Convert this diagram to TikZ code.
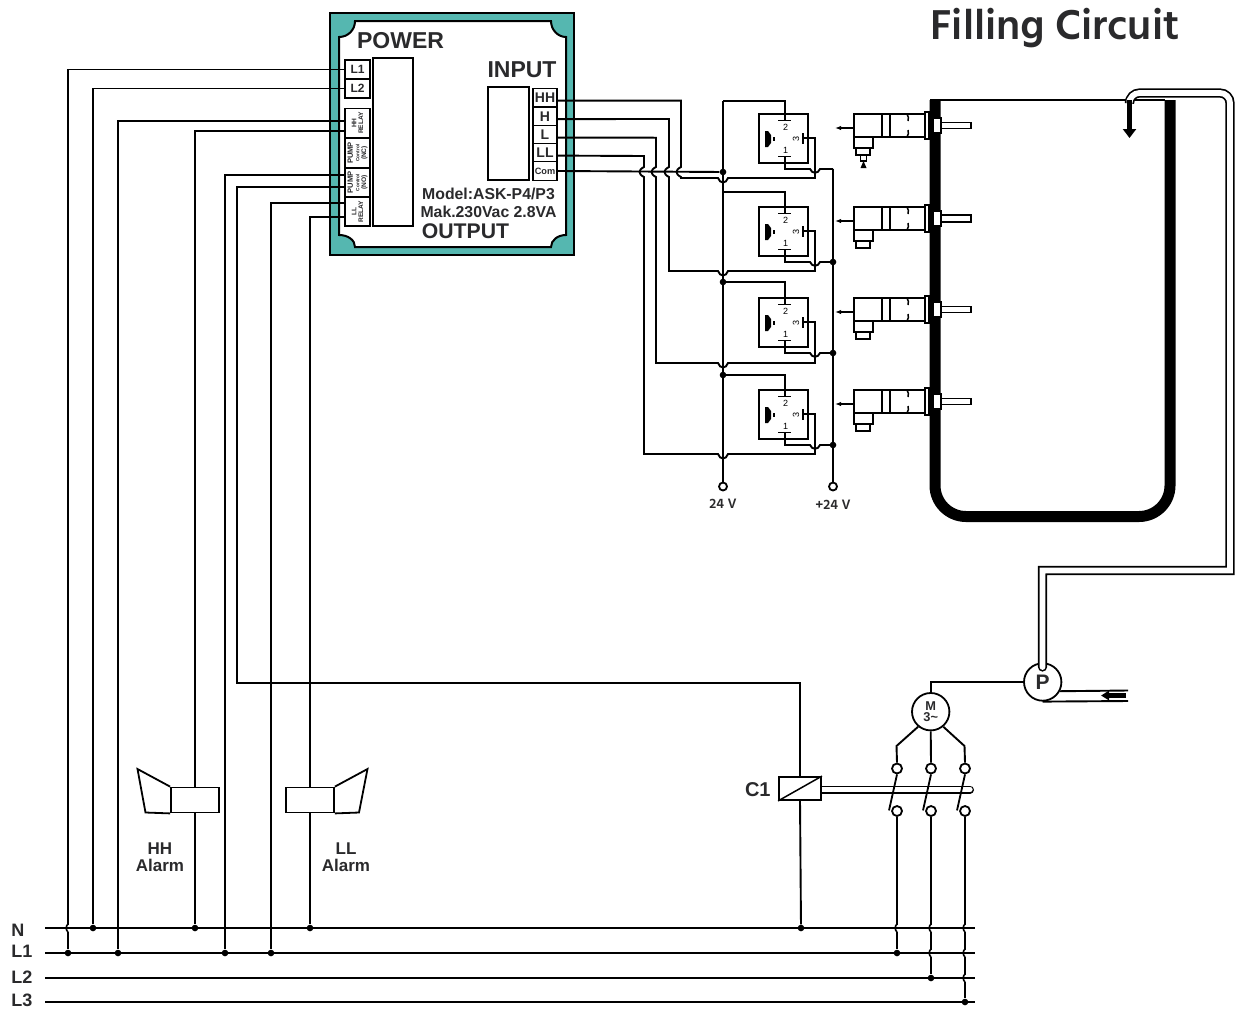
\documentclass[tikz,border=0pt]{standalone}
\usepackage{fontspec}
\setmainfont{Liberation Sans}
\newfontfamily\titlefont{Hind Siliguri}
\usetikzlibrary{arrows,arrows.meta}
\definecolor{panel}{HTML}{55B7B0}
\definecolor{ink}{HTML}{2A2A2C}
\newcommand{\fs}[1]{\fontsize{#1}{#1}\selectfont}

\begin{document}
\begin{tikzpicture}[x=.5pt,y=-.5pt,>={Latex[length=3pt,width=2.2pt]},line join=miter,
  wire/.style={draw,line width=.95pt},
  thin wire/.style={draw,line width=.75pt},
  term/.style={draw,fill=white,line width=.9pt,inner sep=0pt,minimum width=12.5pt,minimum height=9.5pt,text=ink,font=\bfseries\fs{6}},
  side term/.style={term,rotate=90,minimum width=14.6pt,minimum height=12.5pt,align=center,font=\bfseries\fs{3.3}},
  lbl/.style={inner sep=0pt,text=ink,font=\bfseries\fs{#1},align=center},
  dot/.style={circle,fill=black,inner sep=0pt,minimum size=3.3pt},
  contact/.style={circle,draw,fill=white,line width=.9pt,inner sep=0pt,minimum size=5pt},
  plainbox/.style={draw,fill=white,line width=.9pt,inner sep=0pt},
  pipe/.style={draw,line width=.85pt,double=white,double distance=2.9pt,line cap=round}]

  \tikzstyle{sensor} = [draw,fill=white,line width=.85pt]

  \useasboundingbox (0,0) rectangle (1240,1012);

  \node[inner sep=0pt,text=ink,font=\titlefont\bfseries\fs{21.4}] (title) at (1055,28) {Filling Circuit};

  % controller
  \node[draw,fill=panel,line width=1.2pt,inner sep=0pt,minimum width=122pt,minimum height=121pt] (device) at (452,134) {};
  \path[draw,fill=white,line width=1pt] (355,21) -- (551,21) .. controls (551,30) and (558,37) .. (566,37)
    -- (566,235) .. controls (558,235) and (551,240) .. (551,247) -- (355,247)
    .. controls (355,240) and (348,235) .. (339,235) -- (339,37) .. controls (348,37) and (355,30) .. (355,21) -- cycle;
  \node[plainbox,minimum width=20pt,minimum height=84pt] (powerblock) at (393,142) {};
  \node[plainbox,minimum width=20.5pt,minimum height=46.5pt] (inputblock) at (508.5,133.5) {};
  \node[lbl=11.5] (power) at (400.5,40.5) {POWER};
  \node[lbl=11.5] (input) at (522,70) {INPUT};
  \node[lbl=7.9] (model) at (488.5,194) {Model:ASK-P4/P3};
  \node[lbl=7.9] (rating) at (488.5,212) {Mak.230Vac 2.8VA};
  \node[lbl=10.6] (output) at (465.5,231) {OUTPUT};

  \node[term] (tL1) at (357.5,69.5) {L1};
  \node[term] (tL2) at (357.5,88.5) {L2};
  \node[side term] (rHH) at (357.5,123) {HH\\RELAY};
  \node[side term] (pNC) at (357.5,153) {\fs{3.8}PUMP\\\fs{2.4}Control\\(NC)};
  \node[side term] (pNO) at (357.5,182.5) {\fs{3.8}PUMP\\\fs{2.4}Control\\(NO)};
  \node[side term] (rLL) at (357.5,211.5) {LL\\RELAY};
  \node[term,minimum width=12pt,font=\bfseries\fs{7}] (tHH) at (545,98) {HH};
  \node[term,minimum width=12pt,font=\bfseries\fs{7}] (tH) at (545,116.5) {H};
  \node[term,minimum width=12pt,font=\bfseries\fs{7}] (tL) at (545,135) {L};
  \node[term,minimum width=12pt,font=\bfseries\fs{7}] (tLL) at (545,153) {LL};
  \node[term,minimum width=12pt,font=\bfseries\fs{4.6}] (tCom) at (545,171) {Com};

  \coordinate (rHHa) at (345,121);
  \coordinate (rHHb) at (345,131);
  \coordinate (pNOa) at (345,175);
  \coordinate (pNOb) at (345,187);
  \coordinate (rLLa) at (345,203);
  \coordinate (rLLb) at (345,217);

  % supply lines
  \node[lbl=9,anchor=west] (lN) at (11,930) {N};
  \node[lbl=9,anchor=west] (lL1) at (11,951) {L1};
  \node[lbl=9,anchor=west] (lL2) at (11,977) {L2};
  \node[lbl=9,anchor=west] (lL3) at (11,1000) {L3};
  \coordinate (nA) at (45,928);
  \coordinate (nB) at (975,928);
  \coordinate (aA) at (45,953);
  \coordinate (aB) at (975,953);
  \coordinate (bA) at (45,978);
  \coordinate (bB) at (975,978);
  \coordinate (cA) at (45,1002);
  \coordinate (cB) at (975,1002);

  \foreach \nm/\x/\y in {tapA/68/953,tapB/93/928,tapC/118/953,tapD/195/928,tapE/225/953,
      tapF/801/928,tapG/271/953,tapH/310/928,tapJ/897/953,tapK/931/978,tapL/965/1002}
    \node[dot] (\nm) at (\x,\y) {};

  % alarms
  \node[plainbox,minimum width=24pt,minimum height=12.5pt] (boxHH) at (195,800) {};
  \node[plainbox,minimum width=24pt,minimum height=12.5pt] (boxLL) at (310,800) {};
  \path[draw,line width=.9pt] (boxHH.north west) -- (137.5,769) -- (145.5,812.5) -- (boxHH.south west);
  \path[draw,line width=.9pt] (boxLL.north east) -- (367.5,769) -- (359,812.5) -- (boxLL.south east);
  \node[lbl=8.5] (alarmHH) at (160,857) {HH\\[-.2pt]Alarm};
  \node[lbl=8.5] (alarmLL) at (346,857) {LL\\[-.2pt]Alarm};

  % contactor and motor
  \coordinate (rodstart) at (815,789.5);
  \coordinate (rodend) at (970,789.5);
  \path[pipe,line width=.7pt,double distance=2.6pt] (rodstart) -- (rodend);
  \node[plainbox,minimum width=21pt,minimum height=11.5pt] (coil) at (800,788.5) {};
  \path[thin wire] (coil.south west) -- (coil.north east);
  \node[lbl=10,anchor=east] (c1) at (771,790) {C1};
  \node[circle,draw,fill=white,line width=.9pt,inner sep=0pt,minimum size=18.7pt,text=ink,align=center,font=\bfseries\fs{6.4}] (motor) at (930.7,711.7) {M\\[-.5pt]3\textasciitilde};
  \node[circle,draw,fill=white,line width=.9pt,inner sep=0pt,minimum size=18.7pt,text=ink,font=\bfseries\fs{10.5}] (pump) at (1042.7,682) {P};
  \foreach \i/\x in {1/897,2/931,3/965} {
    \node[contact] (ct\i) at (\x,768.5) {};
    \node[contact] (cb\i) at (\x,811) {};
    \path[draw,line width=.9pt] (ct\i.south) -- ++(-8,36);
  }
  \coordinate (mbendA) at (896.5,746);
  \coordinate (mbendB) at (964.5,746);
  \path[wire] (motor.-130) -- (mbendA) -- (ct1.north);
  \path[wire] (motor.south) -- (ct2.north);
  \path[wire] (motor.-50) -- (mbendB) -- (ct3.north);
  \path[wire] (motor.north) |- (pump.west);
  \path[wire] (cb1.south) -- (tapJ);
  \path[wire] (cb2.south) -- (tapK);
  \path[wire] (cb3.south) -- (tapL);

  % outputs
  \path[wire] (tL1.west) -| (tapA);
  \path[wire] (tL2.west) -| (tapB);
  \path[wire] (rHHa) -| (tapC);
  \path[wire] (rHHb) -| (boxHH.north);
  \path[wire] (boxHH.south) -- (tapD);
  \path[wire] (pNOa) -| (tapE);
  \coordinate (coilfeed) at (237,683);
  \path[wire] (pNOb) -| (coilfeed) -| (coil.north);
  \path[wire] (coil.south) -- (tapF);
  \path[wire] (rLLa) -| (tapG);
  \path[wire] (rLLb) -| (boxLL.north);
  \path[wire] (boxLL.south) -- (tapH);

  % hops over the supply lines
  \foreach \x/\y in {68/928,897/928,931/928,931/953,965/928,965/953,965/978} {
    \path[draw=white,line width=1.4pt] (\x,\y-3.5) -- (\x,\y+3.5);
    \path[wire,line width=.8pt] (\x,\y-4) to[bend right=50] (\x,\y+4);
  }
  \path[wire] (nA) -- (nB);
  \path[wire] (aA) -- (aB);
  \path[wire] (bA) -- (bB);
  \path[wire] (cA) -- (cB);

  % relays
  \node[circle,draw,fill=white,line width=.9pt,inner sep=0pt,minimum size=4pt] (vneg) at (723,486.5) {};
  \node[circle,draw,fill=white,line width=.9pt,inner sep=0pt,minimum size=4pt] (vpos) at (833,486.5) {};
  \node[inner sep=0pt,text=ink,font=\titlefont\bfseries\fs{7}] (lneg) at (723,504) {24 V};
  \node[inner sep=0pt,text=ink,font=\titlefont\bfseries\fs{7}] (lpos) at (833,505) {+24 V};
  \coordinate (negtop) at (723,101);
  \coordinate (postop) at (833,169);
  \path[wire] (negtop) -- (vneg.north);
  \path[wire] (postop) -- (vpos.north);
  \node[dot] (comdot) at (723,172) {};
  \path[wire] (tCom.east) -- (comdot);

  \foreach \i/\ry/\fy in {1/114/101,2/207/192,3/298/282,4/390/375} {
    \node[plainbox,fill=none,minimum width=24.5pt,minimum height=24.5pt] (relay\i) at (783.5,\ry+24.5) {};
    \path[fill=black] (765,\ry+17) -- (768,\ry+17) -- (771,\ry+21) -- (771,\ry+29) -- (768,\ry+33) -- (765,\ry+33) -- cycle;
    \path[fill=black] (772.5,\ry+23) rectangle (775,\ry+27);
    \path[wire] (778,\ry+6.5) -- (791,\ry+6.5);
    \path[wire] (778,\ry+42.5) -- (791,\ry+42.5);
    \path[wire] (803,\ry+19) -- (803,\ry+30);
    \node[inner sep=0pt,font=\fs{4.5}] (num\i a) at (785.5,\ry+13) {2};
    \node[inner sep=0pt,font=\fs{4.5}] (num\i b) at (785.5,\ry+36) {1};
    \node[inner sep=0pt,font=\fs{4.5},rotate=90] (num\i c) at (796,\ry+24.5) {3};
    \coordinate (feed\i) at (723,\fy);
    \path[wire] (feed\i) -- (785,\fy) -- (785,\ry+6.5);
    \path[wire] (785,\ry+42.5) -- (785,\ry+55) -- (810,\ry+55)
      .. controls (812,\ry+60) and (818,\ry+60) .. (820,\ry+55) -- (833,\ry+55);
  }
  \node[dot] (feeddotA) at (723,282) {};
  \node[dot] (feeddotB) at (723,375) {};
  \node[dot] (posdotA) at (833,262) {};
  \node[dot] (posdotB) at (833,353) {};
  \node[dot] (posdotC) at (833,445) {};

  % inputs
  \foreach \nm/\x/\ret/\con/\sy in {tHH/681/178/138/100.6,tH/669/271/231/119,tL/656/363/322/137.7,tLL/644/454/414/156} {
    \path[wire] ([yshift=-1.3pt]\nm.east) -- (\x,\sy) -- (\x,167)
      .. controls (\x-6,170) and (\x-6,174) .. (\x,177) -- (\x,\ret) -- (718,\ret)
      .. controls (720,\ret+6) and (726,\ret+6) .. (728,\ret) -- (815,\ret) -- (815,\con) -- (803,\con);
  }

  % tank
  \path[draw,line width=5.5pt,rounded corners=15.5pt] (935,100) -- (935,516.5) -- (1170,516.5) -- (1170,100);
  \coordinate (tankA) at (930,100);
  \coordinate (tankB) at (1165,100);
  \path[wire] (tankA) -- (tankB);

  % level sensors
  \foreach \i/\ry/\pw in {1/114/3,2/207/3.5,3/298/3,4/390/3} {
    \coordinate (arrowtail\i) at (854,\ry+14);
    \coordinate (arrowhead\i) at (835,\ry+14);
    \path[->,thin wire] (arrowtail\i) -- (arrowhead\i);
    \path[sensor] (854,\ry) rectangle (882,\ry+23);
    \path[sensor] (854,\ry+23) rectangle (873,\ry+34);
    \path[sensor] (856,\ry+34) rectangle (870,\ry+41);
    \path[sensor] (882,\ry) rectangle (890,\ry+23);
    \path[thin wire] (890,\ry) -- (925,\ry) (890,\ry+23) -- (925,\ry+23);
    \path[thin wire] (907,\ry) to[bend left=25] (908,\ry+7) (907,\ry+23) to[bend right=25] (908,\ry+16);
    \path[sensor] (925,\ry-2) rectangle (929,\ry+25);
    \path[sensor] (933,\ry+4) rectangle (941,\ry+19);
    \path[sensor] (941,\ry+11.5-\pw) rectangle (971,\ry+11.5+\pw);
  }
  \path[sensor] (860.5,155) rectangle (866.5,161);
  \path[fill=black] (863.5,161) -- (860.5,168) -- (866.5,168) -- cycle;

  % filling pipe
  \coordinate (pipetank) at (1129.5,100);
  \coordinate (pipepump) at (1042.5,667);
  \path[pipe,rounded corners=5pt] (pipetank) -- (1129.5,93) -- (1230,93) [sharp corners] -- (1230,570.5) -- (1042.5,570.5) -- (pipepump);
  \coordinate (dropend) at (1129.5,138);
  \path[draw,line width=2.4pt,-{Triangle[length=4.5pt,width=6.5pt]}] (pipetank) -- (dropend);

  \coordinate (inletA) at (1128,690.5);
  \coordinate (inletB) at (1128,701);
  \coordinate (inflowA) at (1126,695.5);
  \coordinate (inflowB) at (1101,695.5);
  \path[wire] (pump.-28) -- (inletA);
  \path[wire] (pump.south) -- (inletB);
  \path[draw,line width=2.3pt,-{Triangle[length=4pt,width=4.6pt]}] (inflowA) -- (inflowB);
\end{tikzpicture}
\end{document}
